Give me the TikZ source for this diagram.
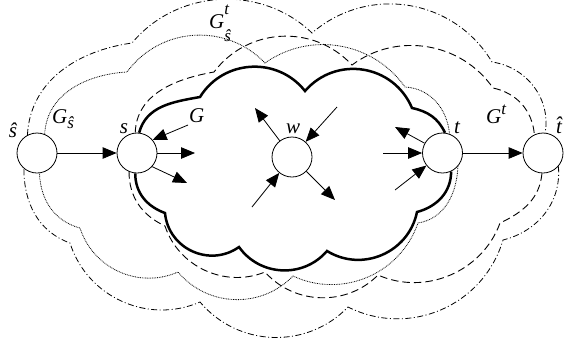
\documentclass[tikz,border=0pt]{standalone}
\usepackage{fontspec}
\setmainfont{Liberation Serif}
\usetikzlibrary{arrows.meta,backgrounds}
\newcommand{\subf}{\fontsize{17}{17}\selectfont\itshape}
\begin{document}
\begin{tikzpicture}[x=1pt,y=1pt,
  vtx/.style={circle,draw,fill=white,minimum size=40pt,inner sep=0pt,line width=0.8pt},
  lbl/.style={inner sep=0pt,font=\fontsize{21}{24}\selectfont\itshape},
  arr/.style={line width=0.8pt,-{Triangle[length=14pt,width=11.5pt]}},
  gcloud/.style={line width=2.5pt},
  tcloud/.style={line width=0.9pt,dash pattern=on 7.5pt off 4pt},
  scloud/.style={line width=0.8pt,dash pattern=on 0.8pt off 0.9pt},
  stcloud/.style={line width=0.8pt,dash pattern=on 6pt off 2.5pt on 1pt off 2.5pt},
]
\useasboundingbox (0,0) rectangle (580,-349);
% vertices
\node[vtx] (sh) at (37,-153) {};
\node[vtx] (s)  at (137,-153) {};
\node[vtx] (w)  at (292,-157) {};
\node[vtx] (t)  at (442.5,-153) {};
\node[vtx] (th) at (543,-153) {};
% cusps
\coordinate (c1) at (200,-97);  \coordinate (c2) at (305,-91);  \coordinate (c3) at (412,-108);
\coordinate (c4) at (417,-212); \coordinate (c5) at (327,-251); \coordinate (c6) at (239,-247); \coordinate (c7) at (165,-213);
\coordinate (d1) at (214,-72);  \coordinate (d2) at (352,-65);  \coordinate (d3) at (493,-88);
\coordinate (d4) at (500,-223); \coordinate (d5) at (378,-275); \coordinate (d6) at (265,-272); \coordinate (d7) at (165,-226);
\coordinate (e1) at (127,-72);  \coordinate (e2) at (265,-63);  \coordinate (e3) at (405,-87);
\coordinate (e4) at (418,-223); \coordinate (e5) at (293,-276); \coordinate (e6) at (178,-272); \coordinate (e7) at (80,-228);
\coordinate (f1) at (132,-43);  \coordinate (f2) at (312,-33);  \coordinate (f3) at (492,-62);
\coordinate (f4) at (503,-240); \coordinate (f5) at (348,-307); \coordinate (f6) at (200,-302); \coordinate (f7) at (70,-243);
\begin{pgfonlayer}{background}
% G (thick)
\draw[gcloud] (s.84) to[out=75,in=190] (c1) to[bend left=55,looseness=1.08] (c2)
  to[bend left=58,looseness=1.12] (c3) to[out=-12,in=115] (t.83);
\draw[gcloud] (t.-65) to[out=-90,in=15] (c4) to[bend left=55,looseness=1.08] (c5)
  to[bend left=52,looseness=1.05] (c6) to[bend left=60,looseness=1.13] (c7) to[out=160,in=-90] (s.-95);
% G^t (dashed)
\draw[tcloud] (s.95) to[out=88,in=190] (d1) to[bend left=50,looseness=1.04] (d2)
  to[bend left=46,looseness=1.0] (d3) to[out=-12,in=95] (th.115);
\draw[tcloud] (th.-93) to[out=-95,in=25] (d4) to[bend left=47,looseness=1.0] (d5)
  to[bend left=47,looseness=1.0] (d6) to[bend left=47,looseness=1.0] (d7) to[out=155,in=-90] (s.-113);
% G_s (dotted)
\draw[scloud] (sh.68) to[out=87,in=183] (e1) to[bend left=50,looseness=1.04] (e2)
  to[bend left=45,looseness=1.0] (e3) to[out=-3,in=95] (t.70);
\draw[scloud] (t.-41) to[out=-92,in=9] (e4) to[bend left=48,looseness=1.02] (e5)
  to[bend left=48,looseness=1.02] (e6) to[bend left=48,looseness=1.02] (e7) to[out=165,in=-88] (sh.-83);
% G_s^t (dash-dot)
\draw[stcloud] (sh.118) to[out=87,in=188] (f1) to[bend left=47,looseness=1.0] (f2)
  to[bend left=50,looseness=1.04] (f3) to[out=-8,in=80] (th.84);
\draw[stcloud] (th.-41) to[out=-85,in=14] (f4) to[bend left=50,looseness=1.04] (f5)
  to[bend left=48,looseness=1.02] (f6) to[bend left=48,looseness=1.02] (f7) to[out=160,in=-90] (sh.-130);
\end{pgfonlayer}
% free arrow ends
\coordinate (a1) at (195,-153); \coordinate (a2) at (187,-183);
\coordinate (w1) at (255,-108); \coordinate (w2) at (337,-107);
\coordinate (w3) at (252,-207); \coordinate (w4) at (335,-200);
\coordinate (t1) at (395,-127); \coordinate (t2) at (383,-153); \coordinate (t3) at (395,-190);
\coordinate (g0) at (188,-125);
% arrows
\draw[arr] (sh) -- (s);
\draw[arr] (s) -- (a1);
\draw[arr] (s.-42) -- (a2);
\draw[arr] (g0) -- (s.40);
\draw[arr] (w) -- (w1);
\draw[arr] (w2) -- (w);
\draw[arr] (w3) -- (w);
\draw[arr] (w) -- (w4);
\draw[arr] (t) -- (t1);
\draw[arr] (t2) -- (t);
\draw[arr] (t3) -- (t);
\draw[arr] (t) -- (th);
% labels
\node[lbl,anchor=base] (lsh) at (13,-137) {ŝ};
\node[lbl,anchor=base west] (lgs) at (52,-123) {G\raisebox{-5pt}{\subf ŝ}};
\node[lbl,anchor=base] (ls) at (124,-133) {s};
\node[lbl,anchor=base west] (lg) at (189,-122) {G};
\node[lbl,anchor=base] (lw) at (293,-133) {w};
\node[lbl,anchor=base] (lt) at (457,-133) {t};
\node[lbl,anchor=base] (lth) at (559,-133) {\^{t}};
\node[lbl,anchor=base west] (lgt) at (486,-123) {G\raisebox{9pt}{\subf t}};
\node[lbl,anchor=base west] (lgst) at (209,-28) {G\makebox[0pt][l]{\raisebox{14pt}{\subf t}}\raisebox{-13pt}{\subf ŝ}};
\end{tikzpicture}
\end{document}
